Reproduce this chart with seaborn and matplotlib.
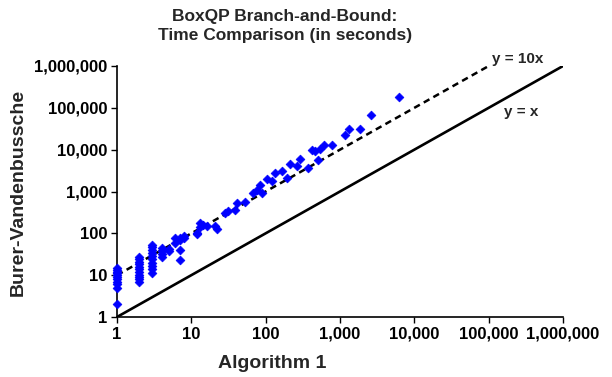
import matplotlib
matplotlib.use("Agg")
import matplotlib.pyplot as plt
import seaborn as sns
import pandas as pd
import numpy as np
from matplotlib.ticker import FuncFormatter, FixedLocator, NullLocator

# times in seconds
alg1_times = [
    1, 1, 1, 1, 1, 1, 1, 1, 1, 1, 1,
    2, 2, 2, 2, 2, 2, 2, 2, 2, 2, 2,
    3, 3, 3, 3, 3, 3, 3, 3, 3, 3,
    4, 4, 4, 4,
    5, 5, 6, 6, 7, 7, 7, 7, 8, 8,
    12, 13, 11.8, 13, 14.5, 16, 21, 22,
    28.5, 31.5, 38.7, 40.7, 52.7, 68, 76, 84, 89, 103, 120, 134, 165,
    192, 213, 262, 290, 376, 417, 462, 512, 540, 600, 776,
    1170, 1340, 1860, 2630, 6300,
]
bv_times = [
    2, 5, 6, 7, 8, 9, 10, 11, 12, 13, 15,
    7, 8, 9, 10, 12, 14, 16, 18, 21, 24, 27,
    11, 14, 17, 20, 24, 28, 33, 40, 47, 53,
    27, 32, 38, 45,
    38, 42, 60, 79, 23, 40, 70, 79, 79, 85,
    98, 144, 100, 177, 160, 147, 147, 126,
    307, 335, 370, 535, 550, 930, 1100, 1470, 930, 1940, 1760, 2800, 3030,
    2130, 4420, 4000, 6000, 3700, 9750, 9200, 5600, 10500, 12600, 12600,
    21900, 30500, 30500, 67000, 182000,
]
decades = [1, 10, 100, 1000, 10000, 100000, 1000000]

df = pd.DataFrame({"Algorithm 1": alg1_times, "Burer-Vandenbussche": bv_times})

sns.set_style("white")
plt.rcParams["font.family"] = ["Liberation Sans", "DejaVu Sans"]
plt.rcParams["font.weight"] = "bold"

fig = plt.figure(figsize=(6.12, 3.77), dpi=100)
ax = fig.add_axes([117 / 612, 60 / 377, 446 / 612, 251 / 377])

# reference lines y = x and y = 10x
line_x = np.array([decades[0], decades[-1]])
ax.plot(line_x, line_x, color="black", lw=1.9, zorder=1)
dash_x = np.array([decades[0], decades[-2]])
ax.plot(dash_x, 10 * dash_x, color="black", lw=1.8, ls=(0, (2.6, 1.8)), zorder=1)

sns.scatterplot(data=df, x="Algorithm 1", y="Burer-Vandenbussche", ax=ax,
                marker="D", s=20, color="#0000FF", edgecolor="#0000FF",
                linewidth=0.5, zorder=3, clip_on=False)

ax.set_xscale("log")
ax.set_yscale("log")
ax.set_xlim(decades[0], decades[-1])
ax.set_ylim(decades[0], decades[-1])

fmt = FuncFormatter(lambda v, pos: f"{int(round(v)):,}")
for axis in (ax.xaxis, ax.yaxis):
    axis.set_major_locator(FixedLocator(decades))
    axis.set_minor_locator(NullLocator())
    axis.set_major_formatter(fmt)

ax.tick_params(axis="both", which="major", direction="out", length=4, width=1,
               labelsize=12, colors="black", pad=3, bottom=True, left=True)
for lab in ax.get_xticklabels() + ax.get_yticklabels():
    lab.set_fontweight("bold")

sns.despine(ax=ax)
for side in ("left", "bottom"):
    ax.spines[side].set_color("black")
    ax.spines[side].set_linewidth(1.2)

ax.set_xlabel("")
ax.set_ylabel("")
fig.text(272 / 612, 1 - 364 / 377, "Algorithm 1", ha="center", va="center",
         fontsize=14, fontweight="bold")
fig.text(18 / 612, 1 - 192 / 377, "Burer-Vandenbussche", ha="center", va="center",
         rotation=90, fontsize=14, fontweight="bold")
fig.text(285 / 612, 1 - 26 / 377, "BoxQP Branch-and-Bound:\nTime Comparison (in seconds)",
         ha="center", va="center", fontsize=12.5, fontweight="bold", linespacing=1.4)

fig.text(518 / 612, 1 - 59 / 377, "y = 10x", ha="center", va="center",
         fontsize=11, fontweight="bold")
fig.text(521 / 612, 1 - 112 / 377, "y = x", ha="center", va="center",
         fontsize=11, fontweight="bold")

fig.savefig("out.png", dpi=100)
